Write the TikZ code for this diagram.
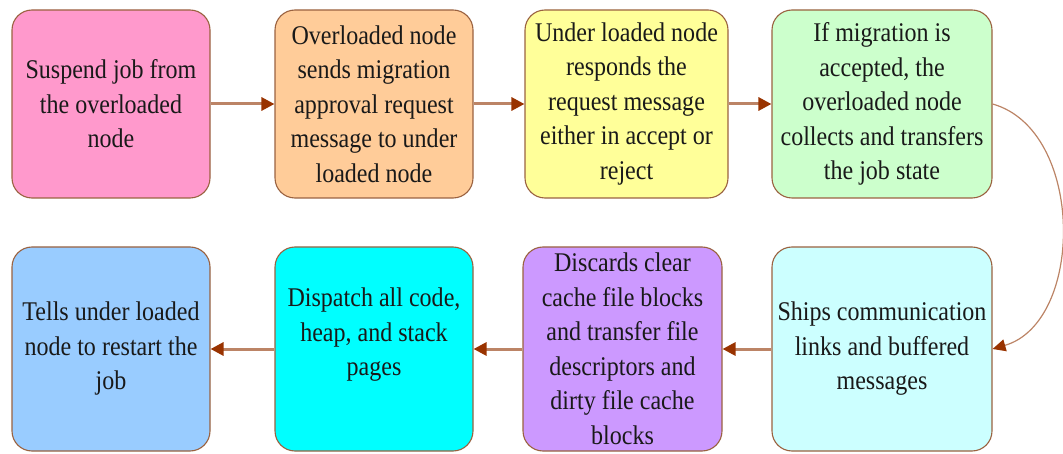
\documentclass[tikz,border=0pt]{standalone}
\usepackage{fontspec}
\setmainfont{Liberation Serif}[FakeStretch=0.89]
\usetikzlibrary{arrows.meta}

\definecolor{cpink}{HTML}{FF99CC}
\definecolor{corange}{HTML}{FFCC99}
\definecolor{cyellow}{HTML}{FFFF99}
\definecolor{cgreen}{HTML}{CCFFCC}
\definecolor{clightcyan}{HTML}{CCFFFF}
\definecolor{cpurple}{HTML}{CC99FF}
\definecolor{ccyan}{HTML}{00FFFF}
\definecolor{cblue}{HTML}{99CCFF}
\definecolor{edge}{HTML}{9A6240}
\definecolor{arrowline}{HTML}{BC8466}
\definecolor{arrowhead}{HTML}{993300}

\begin{document}
\begin{tikzpicture}[x=1pt,y=1pt,
  stepbox/.style={draw=edge, line width=1.1pt, rounded corners=20pt,
    inner sep=0pt, align=center, text=black!90,
    font=\fontsize{27}{34.5}\selectfont},
  toprow/.style={stepbox, minimum height=188pt},
  botrow/.style={stepbox, minimum height=204pt},
  flow/.style={draw=arrowline, line width=3pt,
    -{Triangle[length=13pt,width=13pt,color=arrowhead]}},
  turn/.style={draw=arrowline, line width=1.2pt,
    -{Triangle[length=13pt,width=12pt,color=arrowhead]}}]
\useasboundingbox (0,0) rectangle (1063,-454);

% upper row, left to right
\node[toprow, fill=cpink, minimum width=198pt] (b1) at (111,-104)
  {Suspend job from\\ the overloaded\\ node};
\node[toprow, fill=corange, minimum width=198pt] (b2) at (374,-104)
  {Overloaded node\\ sends migration\\ approval request\\ message to under\\ loaded node};
\node[toprow, fill=cyellow, minimum width=203pt] (b3) at (626.5,-104)
  {Under loaded node\\ responds the\\ request message\\ either in accept or\\ reject};
\node[toprow, fill=cgreen, minimum width=220pt] (b4) at (882,-104)
  {If migration is\\ accepted, the\\ overloaded node\\ collects and transfers\\ the job state};

% lower row, right to left
\node[botrow, fill=clightcyan, minimum width=220pt] (b5) at (882,-349)
  {Ships communication\\ links and buffered\\ messages};
\node[botrow, fill=cpurple, minimum width=199pt] (b6) at (622.5,-349)
  {Discards clear\\ cache file blocks\\ and transfer file\\ descriptors and\\ dirty file cache\\ blocks};
\node[botrow, fill=ccyan, minimum width=198pt] (b7) at (374,-349)
  {Dispatch all code,\\ heap, and stack\\ pages\\ \mbox{}};
\node[botrow, fill=cblue, minimum width=198pt] (b8) at (111,-349)
  {Tells under loaded\\ node to restart the\\ job};

% connectors
\draw[flow] (b1.east) -- (b2.west);
\draw[flow] (b2.east) -- (b3.west);
\draw[flow] (b3.east) -- (b4.west);
\draw[turn] (b4.east) .. controls (1085,-130) and (1085,-322) .. (b5.east);
\draw[flow] (b5.west) -- (b6.east);
\draw[flow] (b6.west) -- (b7.east);
\draw[flow] (b7.west) -- (b8.east);
\end{tikzpicture}
\end{document}
